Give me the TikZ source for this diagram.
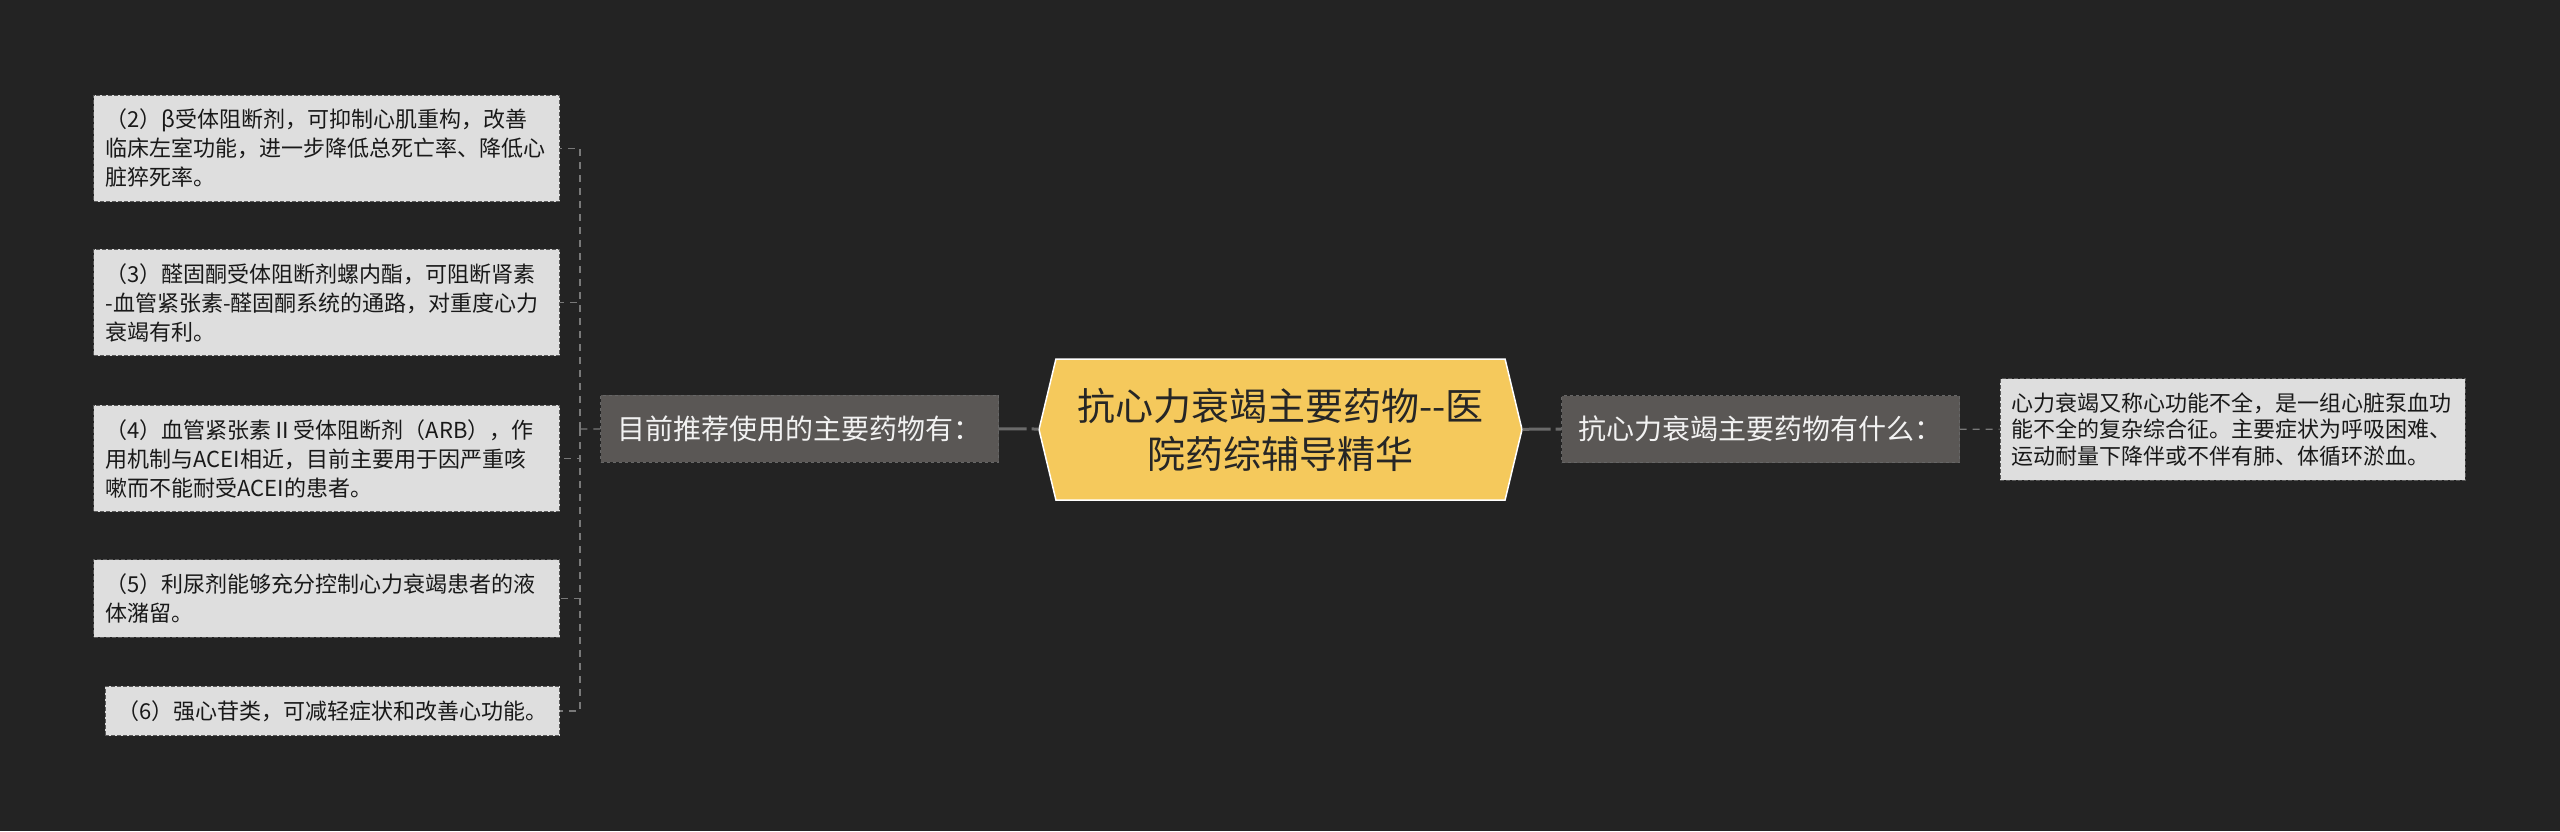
\documentclass[tikz,border=0pt]{standalone}
\usepackage{fontspec}
\setmainfont{Noto Sans CJK SC}
\usetikzlibrary{shapes.symbols}

\definecolor{bgcol}{HTML}{232323}
\definecolor{leafcol}{HTML}{DEDEDE}
\definecolor{midcol}{HTML}{5A5755}
\definecolor{rootcol}{HTML}{F5C95C}
\definecolor{linkcol}{HTML}{6A6A6A}

\begin{document}
\begin{tikzpicture}[x=1pt, y=-1pt,
    main/.style = {signal, signal to=west and east, signal pointer angle=153, fill=rootcol, draw=white, line width=1.5pt, minimum width=483pt, minimum height=141pt, inner sep=0pt, align=center, text=black!85, font=\fontsize{38}{48}\selectfont},
    mid/.style = {draw=black!60, dashed, fill=midcol, minimum width=398pt, minimum height=67pt, inner sep=0pt, text=white!95!black, font=\fontsize{28}{34}\selectfont},
    leaf/.style = {draw=black!65, dash pattern=on 4pt off 2pt, line width=1pt, fill=leafcol, inner xsep=12pt, inner ysep=14pt, align=left, text=black!90, font=\fontsize{22}{29}\selectfont},
    link/.style = {draw=linkcol, line width=3pt, dash pattern=on 28pt off 5pt},
    sub/.style = {draw=linkcol!90!white, line width=1.3pt, dash pattern=on 7pt off 6pt}]

    \useasboundingbox[fill=bgcol] (0,0) rectangle (2560,831);

    \node[main] (0) at (1280.5,429.5) {抗心力衰竭主要药物{-}{-}医\\院药综辅导精华};
    \node[mid] (1) at (799.5,428.5) {目前推荐使用的主要药物有：};
    \node[mid] (2) at (1760.5,429) {抗心力衰竭主要药物有什么：};

    \node[leaf, text width=442pt, anchor=east] (3) at (560,148.5) {（2）β受体阻断剂，可抑制心肌重构，改善\\临床左室功能，进一步降低总死亡率、降低心\\脏猝死率。};
    \node[leaf, text width=442pt, anchor=east] (4) at (560,302.5) {（3）醛固酮受体阻断剂螺内酯，可阻断肾素\\-血管紧张素-醛固酮系统的通路，对重度心力\\衰竭有利。};
    \node[leaf, text width=442pt, anchor=east] (5) at (560,458.5) {（4）血管紧张素Ⅱ受体阻断剂（ARB），作\\用机制与ACEI相近，目前主要用于因严重咳\\嗽而不能耐受ACEI的患者。};
    \node[leaf, text width=442pt, anchor=east] (6) at (560,598.5) {（5）利尿剂能够充分控制心力衰竭患者的液\\体潴留。};
    \node[leaf, anchor=east] (7) at (560,711) {（6）强心苷类，可减轻症状和改善心功能。};

    \node[leaf, text width=442pt, inner xsep=11.5pt, font=\fontsize{22}{26.5}\selectfont] (8) at (2232.5,429.5) {心力衰竭又称心功能不全，是一组心脏泵血功\\能不全的复杂综合征。主要症状为呼吸困难、\\运动耐量下降伴或不伴有肺、体循环淤血。};

    \coordinate (s) at (580,429);

    \draw[link] (1) -- (0);
    \draw[link] (0) -- (2);
    \draw[sub] (2) -- (8);
    \draw[sub] (1) -- (s);
    \foreach \n in {3,...,7}
        \draw[sub] (s) |- (\n);

\end{tikzpicture}
\end{document}
